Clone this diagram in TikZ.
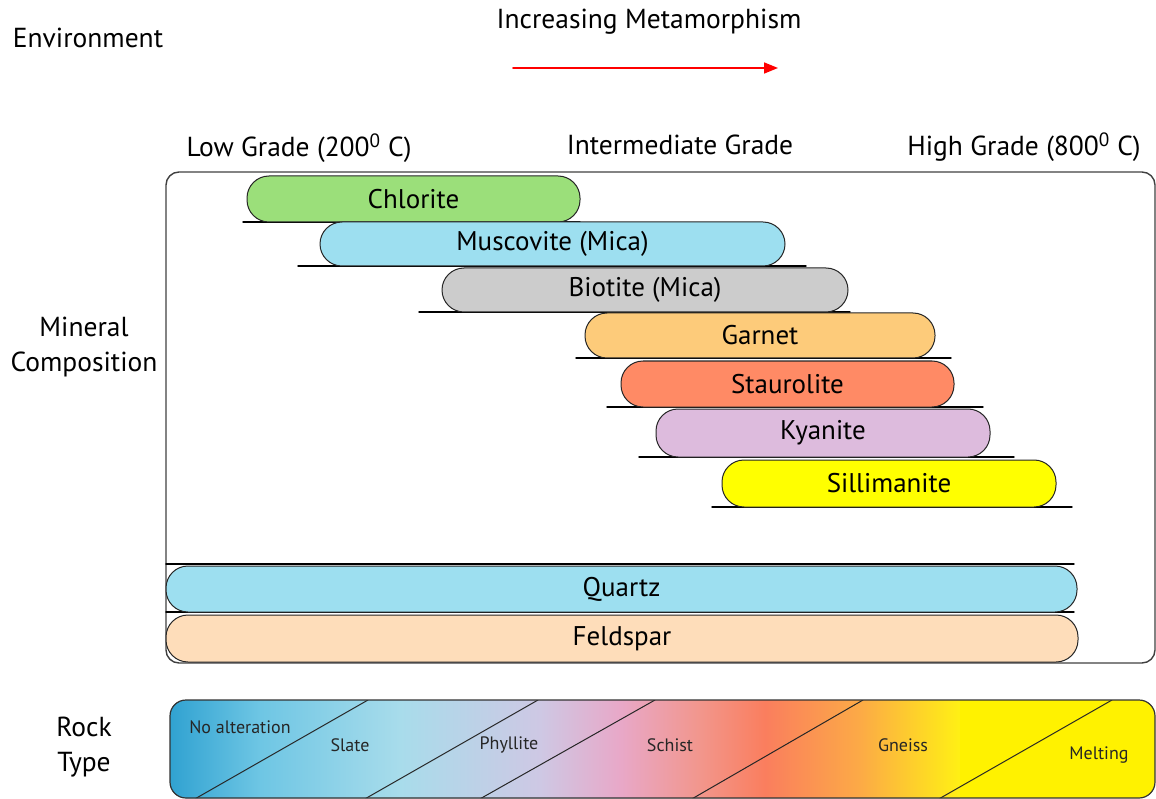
\documentclass[tikz,border=0pt]{standalone}
\usepackage{fontspec}
\setmainfont{PT Sans}
\usetikzlibrary{arrows.meta}
\definecolor{chlgreen}{HTML}{9BDF7A}
\definecolor{micablue}{HTML}{9DDFF0}
\definecolor{biogray}{HTML}{CCCCCC}
\definecolor{garorange}{HTML}{FDCB7A}
\definecolor{stausalmon}{HTML}{FF8A65}
\definecolor{kyapurple}{HTML}{DDBBDD}
\definecolor{silyellow}{HTML}{FFFF00}
\definecolor{feldpeach}{HTML}{FEDDBA}
\tikzset{
  lbl/.style={font=\fontsize{27.5}{35}\selectfont, align=center, inner sep=0pt},
  bar/.style={draw=black!85, line width=1pt, rounded corners=22pt, minimum height=46pt, inner sep=0pt, font=\fontsize{27}{30}\selectfont},
  rocklbl/.style={font=\fontsize{18}{20}\selectfont, inner sep=0pt, text=black!85},
  baseline/.style={line width=1.4pt, black},
}
\begin{document}
\begin{tikzpicture}[x=1pt,y=-1pt,line cap=round,line join=round]
\useasboundingbox (0,0) rectangle (1156,799);
% headings
\node[lbl] (env) at (88,38) {Environment};
\node[lbl] (incr) at (649,22) {Increasing Metamorphism};
\coordinate (arrA) at (513,68);
\coordinate (arrB) at (778,68);
\draw[red, line width=1.6pt, -{Triangle[length=14pt,width=11pt]}] (arrA) -- (arrB);
\node[lbl] (low) at (299,148) {Low Grade (200\textsuperscript{0} C)};
\node[lbl] (mid) at (680,145) {Intermediate Grade};
\node[lbl] (high) at (1024,147) {High Grade (800\textsuperscript{0} C)};
\node[lbl] (minc) at (84,347) {Mineral\\Composition};
\node[lbl] (rockt) at (84,747) {Rock\\Type};
% frame
\draw[black!75, line width=1.4pt, rounded corners=13pt] (166,172) rectangle (1155,663);
% mineral bars: name/x/y/width/height/colour/text/line left/line right
\foreach \nm/\cx/\cy/\w/\h/\col/\txt/\la/\lb in {
  chl/413.5/199/333/46/chlgreen/Chlorite/243/580,
  mus/552.5/244/465/44/micablue/Muscovite (Mica)/298/806,
  bio/645/290/406/44/biogray/Biotite (Mica)/419/850,
  gar/760/335.5/350/45/garorange/Garnet/576/951,
  sta/787.5/384/333/46/stausalmon/Staurolite/607/983,
  kya/823/433/334/48/kyapurple/Kyanite/639/1014,
  sil/889/483.5/334/47/silyellow/Sillimanite/712/1072,
  qtz/621.5/589/911/46/micablue/Quartz/166/1074}{
  \draw[baseline] (\la,\cy+\h/2) -- (\lb,\cy+\h/2);
  \node[bar, fill=\col, minimum width=\w pt, minimum height=\h pt] (\nm) at (\cx,\cy) {\txt};
}
\draw[baseline] (166,564) -- (1074,564);
\node[bar, fill=feldpeach, minimum width=912pt, minimum height=47pt] (fel) at (622,638.5) {Feldspar};
% rock type band
\begin{scope}
\clip[rounded corners=16pt] (170,700) rectangle (1155,798);
\fill[left color={rgb,255:red,45;green,160;blue,208}, right color={rgb,255:red,110;green,198;blue,228}] (165,700) rectangle (260,800);
\fill[left color={rgb,255:red,110;green,198;blue,228}, right color={rgb,255:red,168;green,220;blue,235}] (260,700) rectangle (400,800);
\fill[left color={rgb,255:red,168;green,220;blue,235}, right color={rgb,255:red,206;green,200;blue,228}] (400,700) rectangle (540,800);
\fill[left color={rgb,255:red,206;green,200;blue,228}, right color={rgb,255:red,232;green,168;blue,200}] (540,700) rectangle (620,800);
\fill[left color={rgb,255:red,232;green,168;blue,200}, right color={rgb,255:red,242;green,150;blue,140}] (620,700) rectangle (700,800);
\fill[left color={rgb,255:red,242;green,150;blue,140}, right color={rgb,255:red,250;green,126;blue,94}] (700,700) rectangle (765,800);
\fill[left color={rgb,255:red,250;green,126;blue,94}, right color={rgb,255:red,252;green,170;blue,70}] (765,700) rectangle (860,800);
\fill[left color={rgb,255:red,252;green,170;blue,70}, right color={rgb,255:red,255;green,240;blue,20}] (860,700) rectangle (960,800);
\fill[yellow] (960,700) rectangle (1160,800);
\draw[black!85, line width=1pt] (193,800) -- (368,700);
\draw[black!85, line width=1pt] (363,800) -- (538,700);
\draw[black!85, line width=1pt] (478,800) -- (655,700);
\draw[black!85, line width=1pt] (690,800) -- (863,700);
\draw[black!85, line width=1pt] (937,800) -- (1112,700);
\end{scope}
\draw[black!80, line width=1.2pt, rounded corners=16pt] (170,700) rectangle (1155,798);
\node[rocklbl] (noalt) at (240,727) {No alteration};
\node[rocklbl] (slate) at (350,745) {Slate};
\node[rocklbl] (phyl) at (509,745) {Phyllite};
\node[rocklbl] (schist) at (670,745) {Schist};
\node[rocklbl] (gneiss) at (903,745) {Gneiss};
\node[rocklbl] (melt) at (1099,755) {Melting};
\end{tikzpicture}
\end{document}
